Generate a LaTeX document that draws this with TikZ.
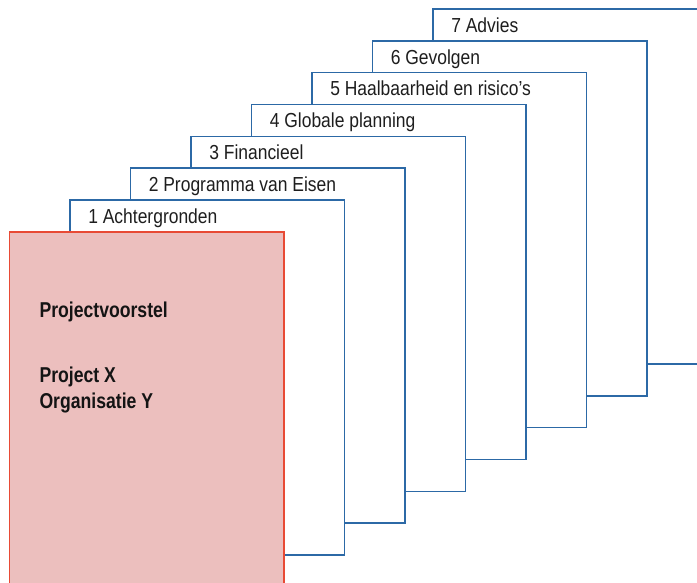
\documentclass[tikz,border=0pt]{standalone}
\usepackage{fontspec}
\usetikzlibrary{calc}
\newfontfamily\labelfont[FakeStretch=0.86]{Liberation Sans}
\newfontfamily\headfont[FakeStretch=0.82]{Liberation Sans}
\definecolor{pageblue}{HTML}{2C69A6}
\definecolor{coverred}{HTML}{E84A35}
\definecolor{coverfill}{HTML}{ECBFBE}
\definecolor{inktext}{HTML}{1E1E1E}
\tikzset{
  sheet/.style={draw=pageblue, fill=white, line width=1.5pt, rectangle,
    minimum width=274.4pt, minimum height=355pt, anchor=north west, inner sep=0pt},
  cover/.style={sheet, draw=coverred, fill=coverfill, line width=1.8pt},
  tab/.style={anchor=base west, inner sep=0pt, text=inktext,
    font=\labelfont\fontsize{20.3}{22}\selectfont},
  head/.style={anchor=base west, inner sep=0pt, text=black!92,
    font=\headfont\bfseries\fontsize{21.5}{26}\selectfont}
}
\begin{document}
\begin{tikzpicture}[x=1pt,y=-1pt]
  \useasboundingbox (0,0) rectangle (697,583);
  \clip (0,0) rectangle (697,583);
  % chapter sheets, back to front
  \foreach \i/\txt in {7/7 Advies, 6/6 Gevolgen, 5/5 Haalbaarheid en risico’s,
      4/4 Globale planning, 3/3 Financieel, 2/2 Programma van Eisen,
      1/1 Achtergronden}{
    \node[sheet] (p\i) at ({69.3+(\i-1)*60.5},{199.3-(\i-1)*31.83}) {};
    \node[tab] (t\i) at ($(p\i.north west)+(18.8,24)$) {\txt};
  }
  % cover sheet
  \node[cover] (cv) at (8.6,231) {};
  \node[head] (h1) at (39.3,317) {Projectvoorstel};
  \node[head] (h2) at (39.3,382) {Project X};
  \node[head] (h3) at (39.3,408.3) {Organisatie Y};
\end{tikzpicture}
\end{document}
